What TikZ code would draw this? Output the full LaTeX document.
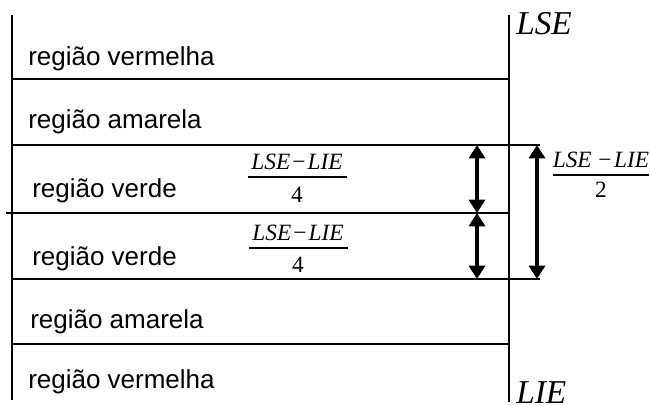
\documentclass[tikz,border=0pt]{standalone}
\usepackage{fontspec}
\setmainfont{Liberation Sans}
\newfontfamily\limfont{Liberation Serif}
\usetikzlibrary{arrows.meta}
\begin{document}
\begin{tikzpicture}[x=0.75pt,y=-0.75pt,
  rule/.style={line width=1.8pt},
  dimarrow/.style={line width=2.6pt,{Triangle[width=12pt,length=10pt]}-{Triangle[width=12pt,length=10pt]}},
  region/.style={anchor=base west,inner sep=0pt,font=\fontsize{19.5}{22}\selectfont},
  limit/.style={anchor=base west,inner sep=0pt,font=\limfont\itshape\fontsize{25}{28}\selectfont},
  fracpart/.style={anchor=base,inner sep=0pt,font=\limfont\fontsize{17.5}{21}\selectfont},
  fracbar/.style={line width=1.7pt}]
\useasboundingbox (0,0) rectangle (650,405);

% limit axis and left border
\coordinate (axtop) at (509,15);
\coordinate (axbot) at (509,402);
\coordinate (lbtop) at (12,15);
\coordinate (lbbot) at (12,400);
\draw[rule] (axtop) -- (axbot);
\draw[rule] (lbtop) -- (lbbot);

% region boundaries
\coordinate (b1l) at (12,79);   \coordinate (b1r) at (509,79);
\coordinate (b2l) at (12,145);  \coordinate (b2r) at (540,145);
\coordinate (b3l) at (6,213);   \coordinate (b3r) at (509,213);
\coordinate (b4l) at (12,279);  \coordinate (b4r) at (540,279);
\coordinate (b5l) at (12,344);  \coordinate (b5r) at (509,344);
\draw[rule] (b1l) -- (b1r);
\draw[rule] (b2l) -- (b2r);
\draw[rule] (b3l) -- (b3r);
\draw[rule] (b4l) -- (b4r);
\draw[rule] (b5l) -- (b5r);

% region labels
\node[region] (r1) at (28,65)  {região vermelha};
\node[region] (r2) at (28,128) {região amarela};
\node[region] (r3) at (32,197) {região verde};
\node[region] (r4) at (32,265) {região verde};
\node[region] (r5) at (30,328) {região amarela};
\node[region] (r6) at (28,388) {região vermelha};

% limits
\node[limit] (lse) at (516,34)  {LSE};
\node[limit] (lie) at (516,403) {LIE};

% dimension arrows
\coordinate (ia1) at (477,145);
\coordinate (ia2) at (477,213);
\coordinate (ia3) at (477,279);
\coordinate (oa1) at (537,145);
\coordinate (oa2) at (537,279);
\draw[dimarrow] (ia1) -- (ia2);
\draw[dimarrow] (ia2) -- (ia3);
\draw[dimarrow] (oa1) -- (oa2);

% fractions
\node[fracpart] (f1n) at (297,169) {\textit{LSE}\kern1.5pt−\kern1.5pt\textit{LIE}};
\draw[fracbar] (248,177) -- (347,177);
\node[fracpart] (f1d) at (297,202) {4};

\node[fracpart] (f2n) at (298,240) {\textit{LSE}\kern1.5pt−\kern1.5pt\textit{LIE}};
\draw[fracbar] (249,248) -- (348,248);
\node[fracpart] (f2d) at (298,272) {4};

\node[fracpart] (f3n) at (601,167) {\textit{LSE}\kern5pt−\kern2pt\textit{LIE}};
\draw[fracbar] (553,175) -- (649,175);
\node[fracpart] (f3d) at (601,197) {2};
\end{tikzpicture}
\end{document}
